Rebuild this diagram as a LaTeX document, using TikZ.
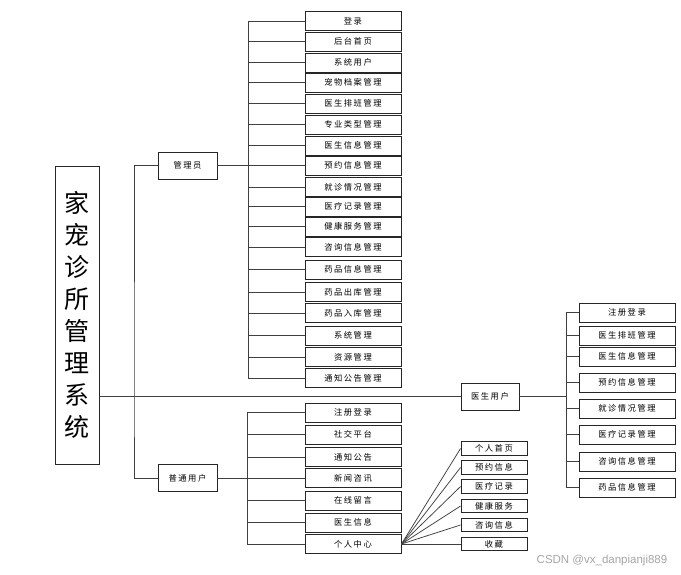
\documentclass[tikz,border=0pt]{standalone}
\usepackage{fontspec}
\setmainfont{Noto Sans CJK SC}
\newfontfamily\cjkitem[LetterSpace=18]{Noto Sans CJK SC}
\newfontfamily\wmfont{Liberation Sans}
\begin{document}
\begin{tikzpicture}[x=1pt,y=-1pt,
  box/.style={draw=black!85,line width=0.9pt,fill=white,inner sep=0pt,align=center},
  item/.style={box,minimum width=96pt,minimum height=19pt,font=\cjkitem\fontsize{8.3}{9}\selectfont},
  sub/.style={box,minimum width=66pt,minimum height=13.5pt,font=\cjkitem\fontsize{8.3}{9}\selectfont},
  role/.style={box,minimum width=59pt,minimum height=27pt,font=\cjkitem\fontsize{8.3}{9}\selectfont},
  conn/.style={draw=black!75,line width=0.75pt}]
\useasboundingbox (0,0) rectangle (681,574);
\fill[white] (0,0) rectangle (681,574);

% root
\node[box,minimum width=44pt,minimum height=298pt,font=\fontsize{25}{32}\selectfont] (root) at (77,315)
  {家\\宠\\诊\\所\\管\\理\\系\\统};

% roles
\node[role] (admin) at (187.5,165.5) {管理员};
\node[role] (user) at (187.5,478) {普通用户};
\node[role,minimum width=58pt] (doc) at (490,396.5) {医生用户};

\coordinate (busM) at (134,396.5);
\coordinate (busA) at (248,165.5);
\coordinate (busU) at (247,478);
\coordinate (busD) at (566,396.5);

\draw[conn] (root.east |- doc.west) -- (doc.west);
\draw[conn] (admin.west) -| (busM) |- (user.west);
\draw[conn] (admin.east) -- (busA);
\draw[conn] (user.east) -- (busU);
\draw[conn] (doc.east) -- (busD);

% admin items
\foreach \t/\y [count=\i] in {登录/21,后台首页/41.5,系统用户/62.5,宠物档案管理/82.5,医生排班管理/103.5,专业类型管理/124.5,医生信息管理/145.5,预约信息管理/165.5,就诊情况管理/187,医疗记录管理/206.5,健康服务管理/226.5,咨询信息管理/247,药品信息管理/269.5,药品出库管理/292,药品入库管理/313,系统管理/335.5,资源管理/357,通知公告管理/378}{
  \draw[conn] (busA) |- (353,\y);
  \node[item] (a\i) at (353,\y) {\t};
}

% user items
\foreach \t/\y [count=\i] in {注册登录/412.5,社交平台/434.5,通知公告/457,新闻咨讯/478,在线留言/500.5,医生信息/522.5,个人中心/544}{
  \draw[conn] (busU) |- (353,\y);
  \node[item] (u\i) at (353,\y) {\t};
}

% personal center sub-items
\foreach \t/\y [count=\i] in {个人首页/448.5,预约信息/467.5,医疗记录/486.5,健康服务/506,咨询信息/525,收藏/544}{
  \node[sub] (s\i) at (494,\y) {\t};
  \draw[conn] (u7.east) -- (s\i.west);
}

% doctor items
\foreach \t/\y [count=\i] in {注册登录/312.5,医生排班管理/335.5,医生信息管理/356.5,预约信息管理/382.5,就诊情况管理/408.5,医疗记录管理/434.5,咨询信息管理/461.5,药品信息管理/487.5}{
  \draw[conn] (busD) |- (627,\y);
  \node[item] (d\i) at (627,\y) {\t};
}

% watermark
\node[font=\wmfont\fontsize{11.5}{13}\selectfont,text=black!35,inner sep=0pt] (wm) at (602,561) {CSDN @vx\_danpianji889};
\end{tikzpicture}
\end{document}
